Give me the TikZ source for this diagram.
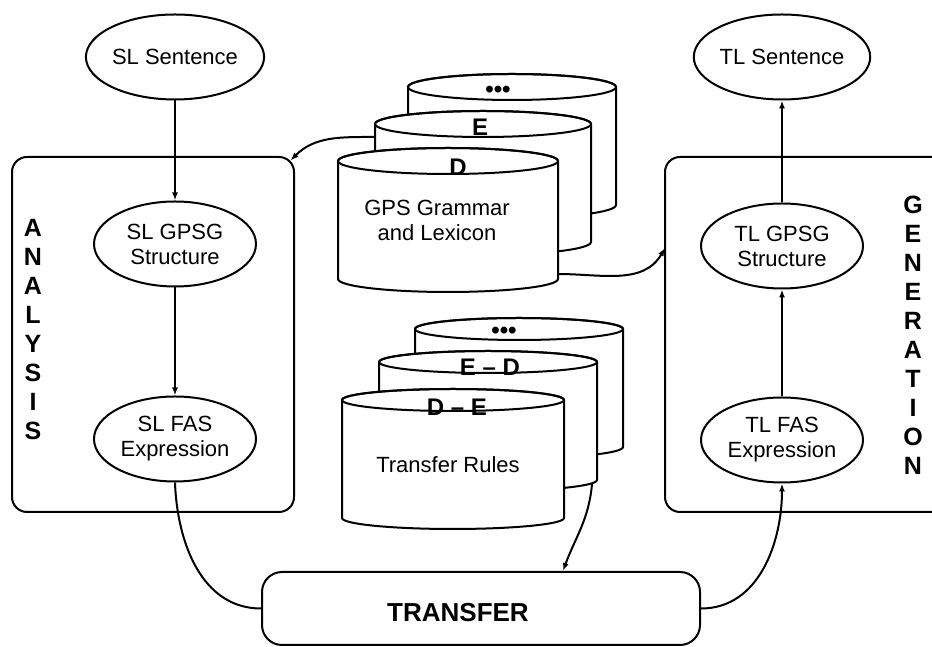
\documentclass[tikz,border=0pt]{standalone}
\usepackage{fontspec}
\setmainfont{Liberation Sans}
\usetikzlibrary{shapes.geometric,arrows.meta,positioning}

\tikzset{
  stage/.style={draw, ellipse, line width=2pt, minimum width=162pt, minimum height=85pt,
    inner sep=0pt, align=center, font=\fontsize{22}{25}\selectfont},
  flow/.style={line width=2pt, -{Latex[length=8pt,width=6pt]}},
  link/.style={line width=2pt},
  disklabel/.style={inner sep=0pt, font=\fontsize{24}{24}\selectfont\bfseries},
  disktext/.style={inner sep=0pt, align=center, font=\fontsize{22}{25}\selectfont},
  sidelabel/.style={inner sep=0pt, align=center, font=\fontsize{25}{29}\selectfont\bfseries}
}

% one disk of a stack: centre x, top y, half width, half height of the rim
\newcommand{\disk}[4]{%
  \filldraw[fill=white, line width=2pt] (#1-#3,#2) -- (#1-#3,#2-118)
    arc[start angle=180, end angle=360, x radius=#3, y radius=#4]
    -- (#1+#3,#2) arc[start angle=0, end angle=180, x radius=#3, y radius=#4] -- cycle;
  \draw[line width=2pt] (#1,#2) ellipse[x radius=#3, y radius=#4];
}

\begin{document}
\begin{tikzpicture}[x=1pt, y=1pt]
  \useasboundingbox (0,0) rectangle (932,647);

  % analysis
  \node[draw, rounded corners=15pt, line width=2pt, minimum width=282pt, minimum height=355pt] (analysis) at (153,312.5) {};
  \node[sidelabel] (analysislabel) at (33,317.5) {A\\N\\A\\L\\Y\\S\\I\\S};
  \node[stage] (slsent) at (175,590) {SL Sentence};
  \node[stage] (slgpsg) at (175,403) {SL GPSG\\Structure};
  \node[stage] (slfas) at (175,208) {SL FAS\\Expression};

  % generation
  \draw[link, rounded corners=15pt] (932,490) -- (665,490) -- (665,135) -- (932,135);
  \node[sidelabel] (generationlabel) at (913,311.5) {G\\E\\N\\E\\R\\A\\T\\I\\O\\N};
  \node[stage] (tlsent) at (782,590) {TL Sentence};
  \node[stage] (tlgpsg) at (782,401) {TL GPSG\\Structure};
  \node[stage] (tlfas) at (782,207) {TL FAS\\Expression};

  % transfer
  \node[draw, rounded corners=20pt, line width=2pt, minimum width=438pt, minimum height=73pt] (transfer) at (481,38.5) {};
  \node[inner sep=0pt, font=\fontsize{26}{26}\selectfont\bfseries] (transferlabel) at (458,34) {TRANSFER};

  % grammar and lexicon
  \disk{512}{560}{104}{13}
  \disk{483}{523}{108}{13}
  \disk{448}{486}{110}{13}
  \node[disklabel] (gpsmore) at (498,555) {•••};
  \node[disklabel] (gpse) at (480,520) {E};
  \node[disklabel] (gpsd) at (458,480) {D};
  \node[disktext] (gps) at (437,427) {GPS Grammar\\and Lexicon};

  % transfer rules
  \disk{519}{318}{104}{11}
  \disk{488}{285}{109}{11}
  \disk{453}{247}{111}{11}
  \node[disklabel] (rulesmore) at (504,314) {•••};
  \node[disklabel] (rulesed) at (490,280) {E -- D};
  \node[disklabel] (rulesde) at (457,240) {D -- E};
  \node[disktext] (rules) at (448,182) {Transfer Rules};

  \coordinate (gpsmid) at (375,510);
  \coordinate (gpsfront) at (558,373);
  \coordinate (rulesmid) at (592,163);
  \coordinate (anacorner) at ([shift={(-4.4pt,-4.4pt)}]analysis.north east);
  \coordinate (genside) at (665,399);
  \coordinate (transfertop) at ([xshift=82pt]transfer.north);

  % connectors
  \draw[flow] (slsent) -- (slgpsg);
  \draw[flow] (slgpsg) -- (slfas);
  \draw[flow] (tlfas) -- (tlgpsg);
  \draw[flow] (tlgpsg) -- (tlsent);
  \draw[link] (slfas.south) to[out=-88, in=180] (transfer.west);
  \draw[flow] (transfer.east) to[out=0, in=-90] (tlfas.south);
  \draw[flow] (rulesmid) to[out=-95, in=70] (transfertop);
  \draw[flow] (gpsmid) to[out=180, in=45] (anacorner);
  \draw[flow] (gpsfront) to[out=0, in=-120] (genside);
\end{tikzpicture}
\end{document}
